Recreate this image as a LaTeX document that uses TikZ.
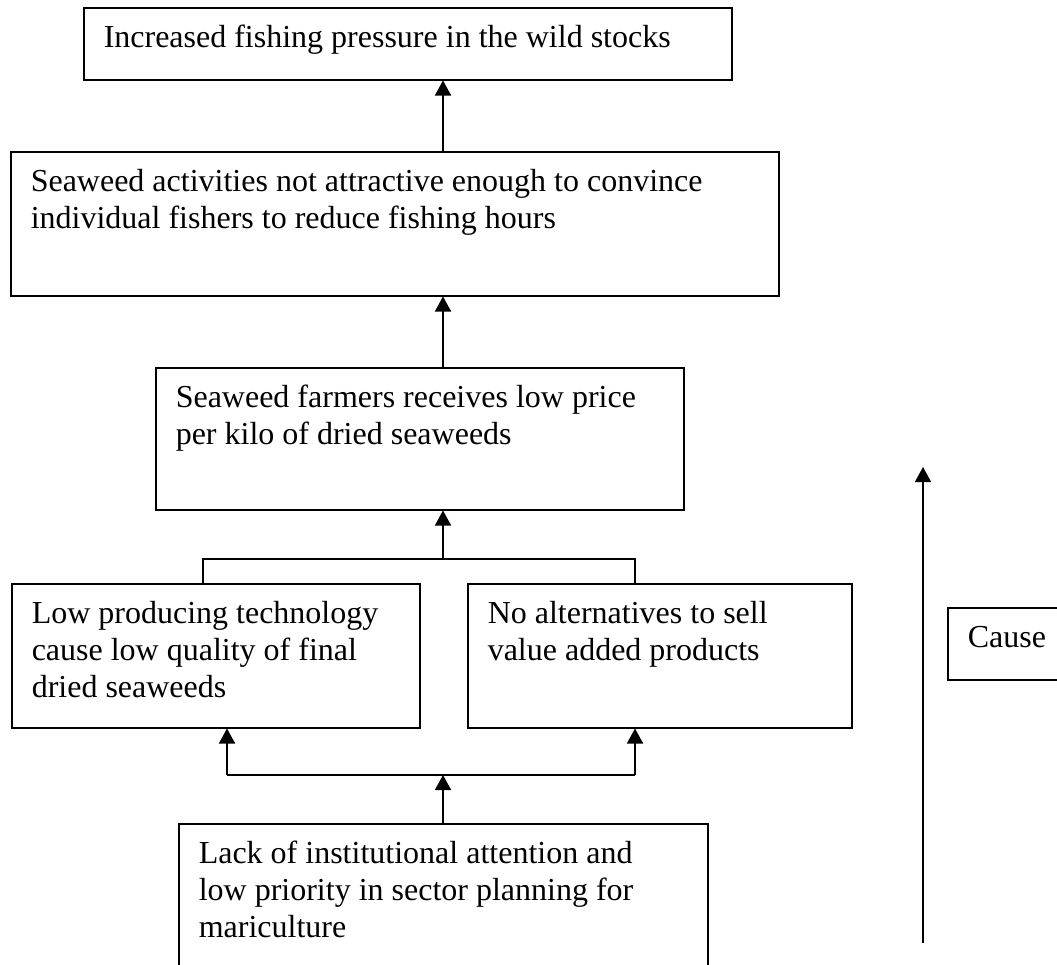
\documentclass[tikz,border=0pt]{standalone}
\usepackage{fontspec}
\setmainfont{Liberation Serif}
\usetikzlibrary{arrows.meta}
\newcommand{\boxtext}[3]{\parbox[t][#2][t]{#1}{\raggedright\strut #3}}

\begin{document}
\begin{tikzpicture}[x=1pt, y=-1pt,
	box/.style={draw, line width=1.5pt, anchor=north west, inner xsep=20pt, inner ysep=14pt, font=\fontsize{32}{37}\selectfont},
	link/.style={line width=1.5pt},
	arr/.style={link, -{Triangle[width=16pt, length=15pt]}}]
	\useasboundingbox (0,0) rectangle (1057,964);
	
	\node[box] (G) at (83,7) {\boxtext{608pt}{44pt}{Increased fishing pressure in the wild stocks}};
	\node[box] (M) at (10,151) {\boxtext{728pt}{116pt}{Seaweed activities not attractive enough to convince\\individual fishers to reduce fishing hours}};
	\node[box] (P) at (155,367) {\boxtext{488pt}{114pt}{Seaweed farmers receives low price\\per kilo of dried seaweeds}};
	\node[box] (T) at (11,583) {\boxtext{368pt}{116pt}{Low producing technology\\cause low quality of final\\dried seaweeds}};
	\node[box] (K) at (467,583) {\boxtext{344pt}{116pt}{No alternatives to sell\\value added products}};
	\node[box] (R) at (178,823) {\boxtext{489pt}{152pt}{Lack of institutional attention and\\low priority in sector planning for\\mariculture}};
	\node[box] (C) at (947,607) {\boxtext{110pt}{44pt}{Cause}};
	
	\coordinate (spine) at (443,0);
	\coordinate (jl) at (203,559);
	\coordinate (jr) at (635,559);
	\coordinate (bl) at (227,775);
	\coordinate (br) at (635,775);
	\coordinate (up0) at (923,943);
	\coordinate (up1) at (923,467);
	
	\draw[arr] (spine |- M.north) -- (spine |- G.south);
	\draw[arr] (spine |- P.north) -- (spine |- M.south);
	\draw[link] (jl |- T.north) -- (jl) -- (jr) -- (jr |- K.north);
	\draw[arr] (spine |- jl) -- (spine |- P.south);
	\draw[link] (bl) -- (br);
	\draw[arr] (bl) -- (bl |- T.south);
	\draw[arr] (br) -- (br |- K.south);
	\draw[arr] (spine |- R.north) -- (spine |- bl);
	\draw[arr] (up0) -- (up1);
\end{tikzpicture}
\end{document}
